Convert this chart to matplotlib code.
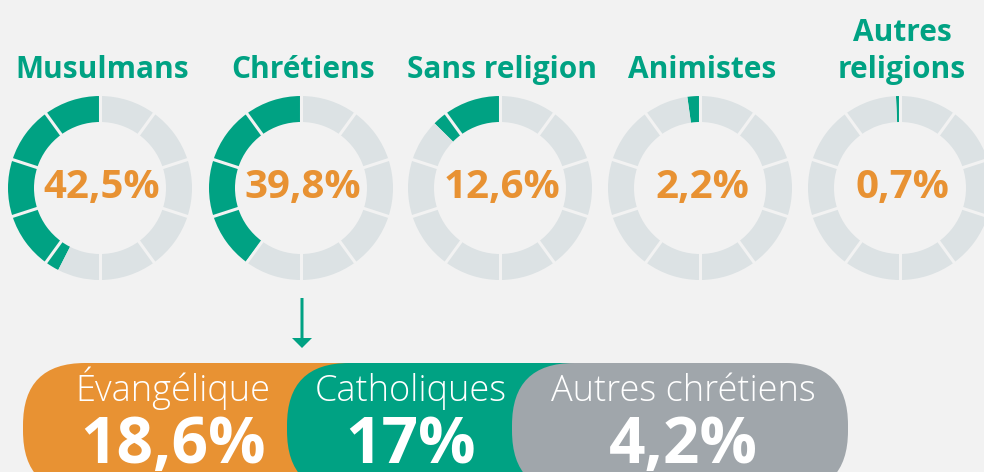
import numpy as np
import matplotlib
matplotlib.use('Agg')
from matplotlib import pyplot as plt
from matplotlib.patches import FancyBboxPatch

# Data
religions = ['Musulmans', 'Chrétiens', 'Sans religion', 'Animistes', 'Autres\nreligions']
shares = [42.5, 39.8, 12.6, 2.2, 0.7]
christian_groups = ['Évangélique', 'Catholiques', 'Autres chrétiens']
christian_shares = [18.6, 17, 4.2]

GREEN = '#00a283'
ORANGE = '#e89233'
RING = '#dce2e4'
PILL_GREY = '#a0a6ab'
BG = '#f2f2f2'
FONT = ['Open Sans', 'DejaVu Sans']
N_SEG = 10

W, H = 984, 472


def fmt(v):
    return f"{v:g}".replace('.', ',') + '%'


def segment_values(v):
    """Split a percentage into green/grey pieces for each of the 10 segments"""
    vals, cols = [], []
    step = 100 / N_SEG
    for i in range(N_SEG):
        g = float(np.clip(v - i * step, 0, step))
        for part, col in ((g, GREEN), (step - g, RING)):
            if part > 0:
                vals.append(part)
                cols.append(col)
    return vals, cols


fig = plt.figure(figsize=(W / 100, H / 100), dpi=100, facecolor=BG)
ax = fig.add_axes([0, 0, 1, 1])
ax.set_facecolor(BG)

# donuts (pixel coords, y measured from bottom)
centers_x = [100, 301, 500, 700, 900]
cy = H - 188
R, ring_w = 92, 26
for cx, name, v in zip(centers_x, religions, shares):
    vals, cols = segment_values(v)
    ax.pie(vals, colors=cols, startangle=90, counterclock=True, radius=R,
           center=(cx, cy), frame=True,
           wedgeprops=dict(width=ring_w, edgecolor='none', linewidth=0))
    for k in range(N_SEG):
        a = np.deg2rad(90 + 360 / N_SEG * k)
        r = np.array([R - ring_w - 2, R + 2])
        ax.plot(cx + r * np.cos(a), cy + r * np.sin(a), color=BG, lw=2.2,
                solid_capstyle='butt')
    ax.text(cx + 2, H - 198, fmt(v), ha='center', va='baseline', color=ORANGE,
            fontsize=29, fontweight='bold', family=FONT)
    ax.text(cx + 2, H - 78, name, ha='center', va='baseline', color=GREEN,
            fontsize=21.5, fontweight='bold', family=FONT, linespacing=1.3)

# arrow from Chrétiens to detail
ax.arrow(302, H - 298, 0, -50, width=3, head_width=20, head_length=10,
         length_includes_head=True, color=GREEN, lw=0)

# pills
pill_x = [(23, 430), (287, 640), (512, 848)]
pill_cols = [ORANGE, GREEN, PILL_GREY]
text_x = [173, 411, 683]
top, hgt = H - 363, 130
for (x0, x1), col, tx, lab, v in zip(pill_x, pill_cols, text_x,
                                     christian_groups, christian_shares):
    ax.add_patch(FancyBboxPatch((x0, top - hgt), x1 - x0, hgt,
                                boxstyle='round,pad=0,rounding_size=62',
                                fc=col, ec='none'))
    ax.text(tx, H - 401, lab, ha='center', va='baseline', color='white',
            fontsize=26, fontweight='light', family=FONT)
    ax.text(tx, H - 463, fmt(v), ha='center', va='baseline', color='white',
            fontsize=46, fontweight='bold', family=FONT)

ax.set_xlim(0, W)
ax.set_ylim(0, H)
ax.set_aspect('equal')
ax.axis('off')
fig.savefig('out.png', dpi=100, facecolor=BG)
